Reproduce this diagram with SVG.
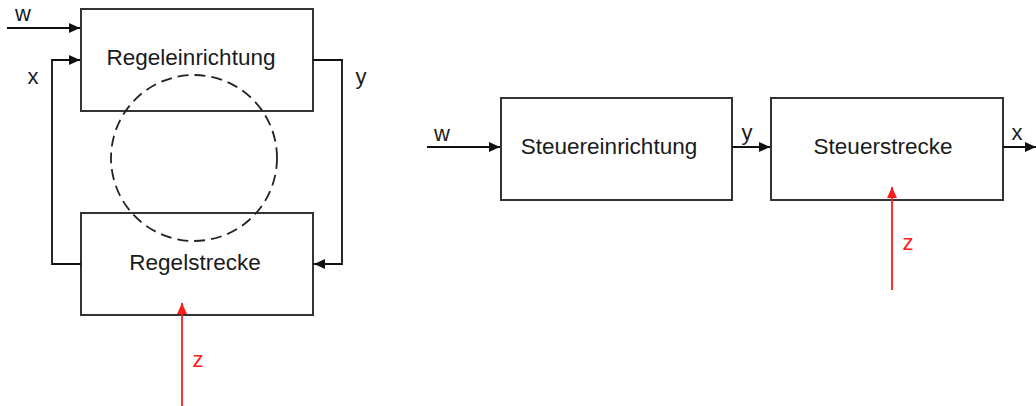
<svg xmlns="http://www.w3.org/2000/svg" width="1036" height="406" viewBox="0 0 1036 406">
  <style>
    .box { fill: #ffffff; stroke: #333333; stroke-width: 2; }
    .line { fill: none; stroke: #111111; stroke-width: 1.8; }
    .red { fill: none; stroke: #ff1a1a; stroke-width: 1.8; }
    .lbl { font-family: "Liberation Sans", Arial, sans-serif; font-size: 22.5px; fill: #1a1a1a; text-anchor: middle; }
    .sig { font-family: "Liberation Sans", Arial, sans-serif; font-size: 22px; fill: #1a1a1a; text-anchor: middle; }
    .sigred { font-family: "Liberation Sans", Arial, sans-serif; font-size: 22px; fill: #ff1a1a; text-anchor: middle; }
    .dash { fill: none; stroke: #222222; stroke-width: 1.8; stroke-dasharray: 11 6; }
  </style>
  <defs>
    <marker id="arr" markerUnits="userSpaceOnUse" markerWidth="12" markerHeight="10" refX="11" refY="5" orient="auto">
      <path d="M0,0 L11,5 L0,10 Z" fill="#111111"/>
    </marker>
    <marker id="arrRed" markerUnits="userSpaceOnUse" markerWidth="12" markerHeight="10" refX="11" refY="5" orient="auto">
      <path d="M0,0 L11,5 L0,10 Z" fill="#ff1a1a"/>
    </marker>
  </defs>
  <rect width="1036" height="406" fill="#ffffff"/>

  <!-- closed loop: controller and plant -->
  <g id="regeleinrichtung">
    <rect class="box" x="81" y="9" width="232" height="102"/>
    <text class="lbl" x="191" y="65">Regeleinrichtung</text>
  </g>
  <g id="regelstrecke">
    <rect class="box" x="81" y="213" width="232" height="102"/>
    <text class="lbl" x="195" y="270">Regelstrecke</text>
  </g>
  <circle class="dash" cx="194" cy="158" r="83"/>

  <!-- open loop: control unit and controlled system -->
  <g id="steuereinrichtung">
    <rect class="box" x="501" y="98" width="231" height="102"/>
    <text class="lbl" x="609" y="154">Steuereinrichtung</text>
  </g>
  <g id="steuerstrecke">
    <rect class="box" x="771" y="98" width="232" height="102"/>
    <text class="lbl" x="883" y="154">Steuerstrecke</text>
  </g>

  <g id="connectors">
    <!-- closed loop -->
    <line class="line" x1="7" y1="28" x2="80" y2="28" marker-end="url(#arr)"/>
    <polyline class="line" points="81,264 52,264 52,60 80,60" marker-end="url(#arr)"/>
    <polyline class="line" points="313,60 342,60 342,264 314,264" marker-end="url(#arr)"/>
    <line class="red" x1="182" y1="406" x2="182" y2="303" marker-end="url(#arrRed)"/>
    <!-- open loop -->
    <line class="line" x1="427" y1="147" x2="500" y2="147" marker-end="url(#arr)"/>
    <line class="line" x1="732" y1="147" x2="770" y2="147" marker-end="url(#arr)"/>
    <line class="line" x1="1003" y1="147" x2="1036" y2="147" marker-end="url(#arr)"/>
    <line class="red" x1="892" y1="290" x2="892" y2="187" marker-end="url(#arrRed)"/>
  </g>

  <g id="signals">
    <text class="sig" x="23" y="21">w</text>
    <text class="sig" x="33" y="84">x</text>
    <text class="sig" x="361" y="84">y</text>
    <text class="sigred" x="198" y="367">z</text>
    <text class="sig" x="442" y="141">w</text>
    <text class="sig" x="747" y="140">y</text>
    <text class="sig" x="1017" y="140">x</text>
    <text class="sigred" x="908" y="250">z</text>
  </g>
</svg>
